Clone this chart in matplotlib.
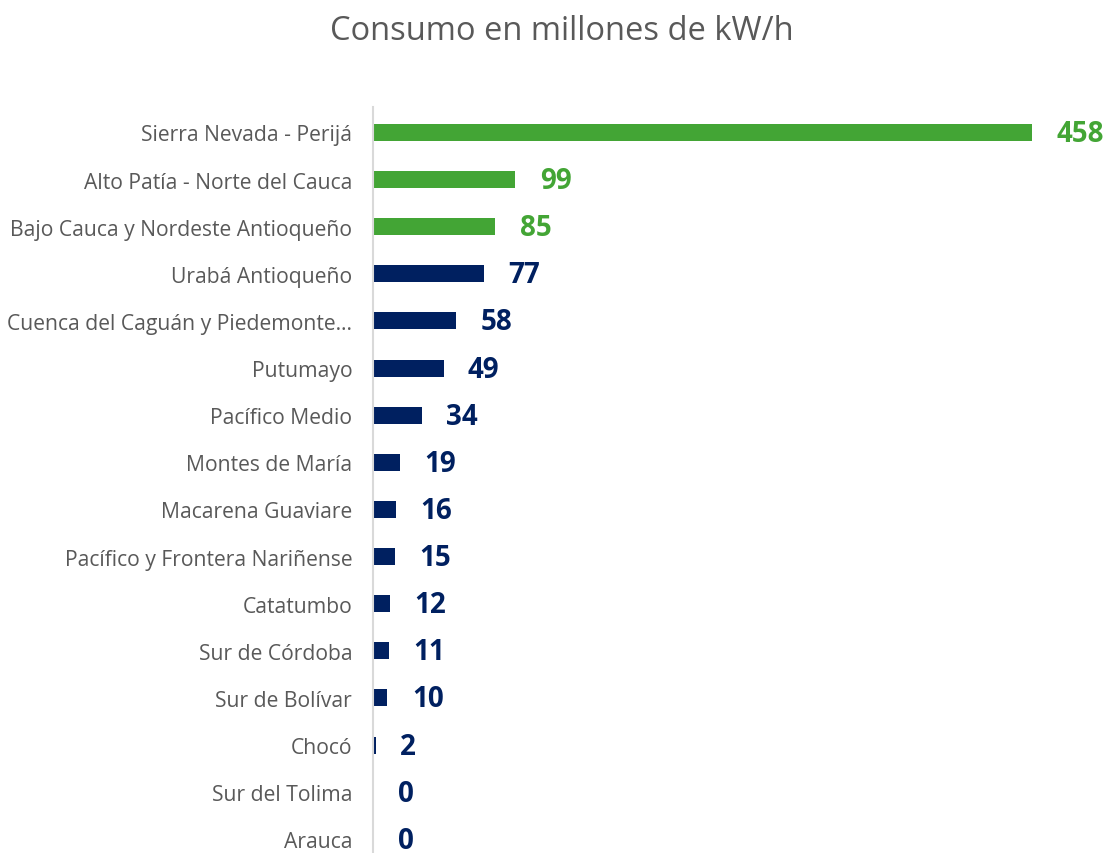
import matplotlib.pyplot as plt

regions = ['Sierra Nevada - Perijá', 'Alto Patía - Norte del Cauca',
           'Bajo Cauca y Nordeste Antioqueño', 'Urabá Antioqueño',
           'Cuenca del Caguán y Piedemonte…', 'Putumayo', 'Pacífico Medio',
           'Montes de María', 'Macarena Guaviare', 'Pacífico y Frontera Nariñense',
           'Catatumbo', 'Sur de Córdoba', 'Sur de Bolívar', 'Chocó',
           'Sur del Tolima', 'Arauca']
consumo = [458, 99, 85, 77, 58, 49, 34, 19, 16, 15, 12, 11, 10, 2, 0.3, 0.2]
etiquetas = ['458', '99', '85', '77', '58', '49', '34', '19', '16', '15',
             '12', '11', '10', '2', '0', '0']
top_n = 3

green = '#43A535'
navy = '#002060'
colors = [green if i < top_n else navy for i in range(len(regions))]

plt.rcParams['font.family'] = ['Open Sans', 'DejaVu Sans']

fig = plt.figure(figsize=(11.07, 8.54), dpi=100)
ax = fig.add_axes([373 / 1107, 0, (1062 - 373) / 1107, 1 - 108 / 854])

y = list(range(len(regions)))
ax.barh(y, consumo, height=0.36, color=colors)
for yi, v, t, c in zip(y, consumo, etiquetas, colors):
    ax.text(v + 17, yi + 0.02, t, va='center', ha='left', fontsize=20,
            fontweight='bold', color=c, clip_on=False)

ax.set_xlim(0, (1062 - 373) / 1.439)
ax.set_ylim(15.29, -0.54)
ax.set_yticks(y)
ax.set_yticklabels(regions, fontsize=15.2, color='#595959')
ax.tick_params(axis='y', length=0, pad=15)
ax.set_xticks([])
for s in ['top', 'right', 'bottom']:
    ax.spines[s].set_visible(False)
ax.spines['left'].set_color('#D9D9D9')
ax.spines['left'].set_linewidth(1.5)

fig.text(562 / 1107, 1 - 32 / 854, 'Consumo en millones de kW/h', ha='center',
         va='center', fontsize=23.5, color='#595959')

fig.savefig('out.png', dpi=100)
